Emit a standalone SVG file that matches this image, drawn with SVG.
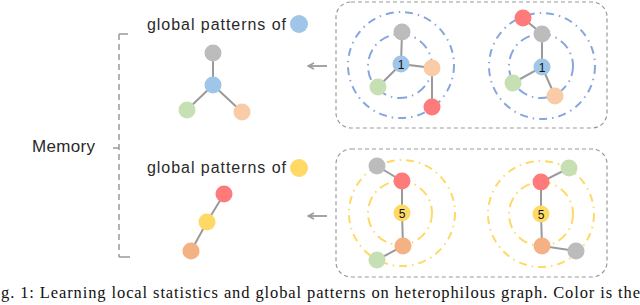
<svg xmlns="http://www.w3.org/2000/svg" width="640" height="305" viewBox="0 0 640 305">
<defs>
<style>
.lbl{font-family:"Liberation Sans","DejaVu Sans",sans-serif;font-size:16px;fill:#2a2a2a}
.cap{font-family:"Liberation Serif","DejaVu Serif",serif;font-size:16.5px;fill:#111}
.box{fill:none;stroke:#9a9a9a;stroke-width:1.2;stroke-dasharray:4 3}
.edge{stroke:#9a9a9a;stroke-width:2;fill:none}
.ob{fill:none;stroke:#86a6df;stroke-width:2;stroke-dasharray:8 5 1.5 5}
.ib{fill:none;stroke:#86a6df;stroke-width:2;stroke-dasharray:10 5 1.5 5}
.oy{fill:none;stroke:#ffd966;stroke-width:2;stroke-dasharray:8 5 1.5 5}
.iy{fill:none;stroke:#ffd966;stroke-width:2;stroke-dasharray:10 5 1.5 5}
.gray{fill:#bcbcbc}.blue{fill:#9fc5e8}.peach{fill:#f9cba7}.green{fill:#c6e0b4}.red{fill:#ff7a7a}.yellow{fill:#ffd966}.orange{fill:#f4b183}
.num{font-family:"Liberation Sans","DejaVu Sans",sans-serif;font-size:12px;fill:#111;text-anchor:middle}
.brk{stroke:#9a9a9a;stroke-width:1.5;fill:none}
</style>
<marker id="ah" markerWidth="8" markerHeight="8" refX="7" refY="4" orient="auto" markerUnits="userSpaceOnUse">
<path d="M1,1 L7,4 L1,7" fill="none" stroke="#9a9a9a" stroke-width="1.5"/>
</marker>
</defs>

<g id="memory">
<text class="lbl" x="32" y="152" textLength="63" style="font-size:17px">Memory</text>
<path class="brk" d="M119,34 V257" stroke-dasharray="6 4"/>
<path class="brk" d="M119,34 H128 M119,257 H130 M113,148 H119"/>
</g>

<g id="pattern-blue">
<text class="lbl" x="147" y="30" textLength="139">global patterns of</text>
<circle class="blue" cx="299" cy="24" r="9"/>
<path class="edge" d="M213,53 L213,85 L187,110 M213,85 L242,112"/>
<circle class="gray" cx="213" cy="53" r="8.5"/>
<circle class="blue" cx="213" cy="85" r="8.5"/>
<circle class="green" cx="187" cy="110" r="8.5"/>
<circle class="peach" cx="242" cy="112" r="8.5"/>
</g>

<g id="pattern-yellow">
<text class="lbl" x="147" y="173" textLength="139">global patterns of</text>
<circle class="yellow" cx="299" cy="168" r="9"/>
<path class="edge" d="M224,194 L207,222 L191,251"/>
<circle class="red" cx="224" cy="194" r="8.5"/>
<circle class="yellow" cx="207" cy="222" r="8.5"/>
<circle class="orange" cx="191" cy="251" r="8.5"/>
</g>

<g id="local-blue">
<rect class="box" x="336" y="2" width="271" height="126" rx="15"/>
<circle class="ob" cx="401" cy="65" r="53"/>
<circle class="ib" cx="400" cy="66" r="32"/>
<path class="edge" d="M402,32 L401,64 L378,87 M401,64 L432,68 L432,107"/>
<circle class="gray" cx="402" cy="32" r="8.5"/>
<circle class="blue" cx="401" cy="64" r="8.5"/>
<text class="num" x="401" y="68.5">1</text>
<circle class="peach" cx="432" cy="68" r="8.5"/>
<circle class="green" cx="378" cy="87" r="8.5"/>
<circle class="red" cx="432" cy="107" r="8.5"/>

<circle class="ob" cx="542" cy="66" r="53"/>
<circle class="ib" cx="541" cy="66" r="32"/>
<path class="edge" d="M523,18 L542,34 L542,67 L513,83 M542,67 L555,96"/>
<circle class="red" cx="523" cy="18" r="8.5"/>
<circle class="gray" cx="542" cy="34" r="8.5"/>
<circle class="blue" cx="542" cy="67" r="8.5"/>
<text class="num" x="542" y="71.5">1</text>
<circle class="green" cx="513" cy="83" r="8.5"/>
<circle class="peach" cx="555" cy="96" r="8.5"/>
</g>

<g id="local-yellow">
<rect class="box" x="336" y="149" width="271" height="128" rx="15"/>
<circle class="oy" cx="402" cy="213" r="53"/>
<circle class="iy" cx="400" cy="213" r="32"/>
<path class="edge" d="M377,166 L402,181 L402,213 L403,246 L377,260"/>
<circle class="gray" cx="377" cy="166" r="8.5"/>
<circle class="red" cx="402" cy="181" r="8.5"/>
<circle class="yellow" cx="402" cy="213" r="8.5"/>
<text class="num" x="402" y="217.5">5</text>
<circle class="orange" cx="403" cy="246" r="8.5"/>
<circle class="green" cx="377" cy="260" r="8.5"/>

<circle class="oy" cx="541" cy="214" r="53"/>
<circle class="iy" cx="541" cy="214" r="32"/>
<path class="edge" d="M569,168 L541,182 L541,214 L542,246 L576,251"/>
<circle class="green" cx="569" cy="168" r="8.5"/>
<circle class="red" cx="541" cy="182" r="8.5"/>
<circle class="yellow" cx="541" cy="214" r="8.5"/>
<text class="num" x="541" y="218.5">5</text>
<circle class="orange" cx="542" cy="246" r="8.5"/>
<circle class="gray" cx="576" cy="251" r="8.5"/>
</g>

<g id="connectors">
<path class="edge" d="M327,66 H308" marker-end="url(#ah)" style="stroke-width:1.8"/>
<path class="edge" d="M327,216 H308" marker-end="url(#ah)" style="stroke-width:1.8"/>
</g>

<text class="cap" x="1" y="298" textLength="639">g. 1: Learning local statistics and global patterns on heterophilous graph. Color is the</text>
</svg>
